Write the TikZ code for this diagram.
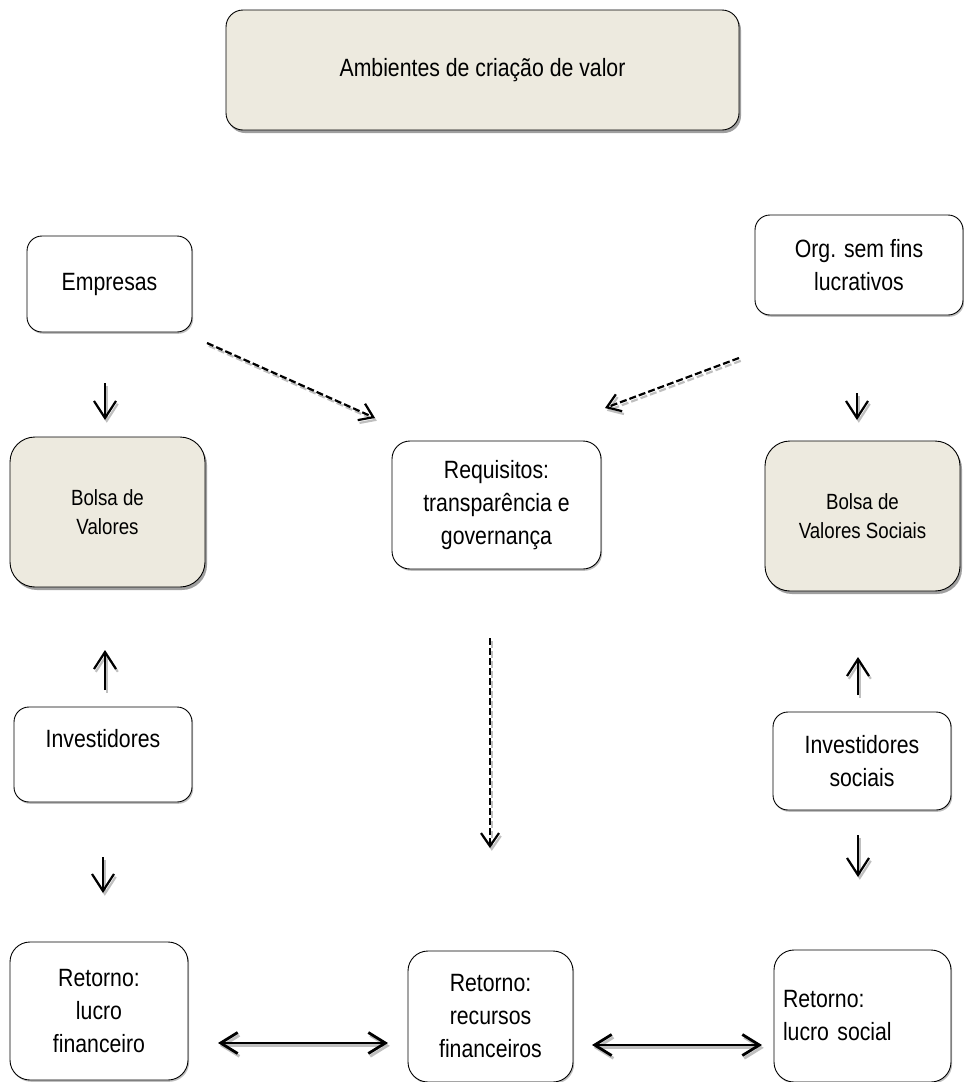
\documentclass[tikz,border=0pt]{standalone}
\usepackage{fontspec}
\setmainfont{Liberation Sans}[FakeStretch=0.85]
\usetikzlibrary{arrows.meta,shadows}
\definecolor{beige}{RGB}{237,234,223}
\newcommand\shadedarrow[3]{%
  \draw[#1, draw=gray!50, transform canvas={shift={(1.8pt,-2.8pt)}}] (#2) -- (#3);
  \draw[#1] (#2) -- (#3);}
\begin{document}
\begin{tikzpicture}[x=1pt,y=-1pt,
  box/.style={draw=black, line width=0.9pt, rounded corners=15pt, fill=white,
    align=center, inner sep=0pt, font=\fontsize{25}{33}\selectfont,
    drop shadow={shadow xshift=1.2pt, shadow yshift=-1.8pt, fill=gray!50, opacity=1}},
  fbox/.style={box, fill=beige,
    drop shadow={shadow xshift=2pt, shadow yshift=-3pt, fill=gray!75, opacity=1}},
  arr/.style={line width=2.2pt, -{Straight Barb[length=17pt,width=22pt]}},
  darr/.style={line width=2.2pt, dash pattern=on 7pt off 3pt,
    -{Straight Barb[length=13pt,width=18pt]}},
  barr/.style={line width=2.8pt,
    {Straight Barb[length=17pt,width=21pt]}-{Straight Barb[length=17pt,width=21pt]}}
]
\useasboundingbox (0,0) rectangle (964,1082);

% boxes
\node[fbox, rounded corners=17pt, minimum width=513pt, minimum height=120pt] (top) at (482.5,70) {Ambientes de criação de valor};
\node[box, minimum width=165pt, minimum height=96pt] (emp) at (109.5,284) {Empresas};
\node[box, minimum width=208pt, minimum height=100pt] (org) at (859,265) {Org. sem fins\\lucrativos};
\node[fbox, rounded corners=25pt, minimum width=195pt, minimum height=150pt, font=\fontsize{22}{29}\selectfont] (bv) at (107.5,512) {Bolsa de\\Valores};
\node[box, rounded corners=18pt, minimum width=209pt, minimum height=128pt] (req) at (496.5,505) {Requisitos:\\transparência e\\governança};
\node[fbox, rounded corners=25pt, minimum width=195pt, minimum height=150pt, font=\fontsize{22}{29}\selectfont] (bvs) at (862.5,516) {Bolsa de\\Valores Sociais};
\node[box, minimum width=178pt, minimum height=95pt] (inv) at (103,754.5) {Investidores\\\mbox{}};
\node[box, minimum width=178pt, minimum height=98pt] (invs) at (862,761) {Investidores\\sociais};
\node[box, rounded corners=20pt, minimum width=178pt, minimum height=138pt] (rlf) at (99,1011) {Retorno:\\lucro\\financeiro};
\node[box, rounded corners=20pt, minimum width=165pt, minimum height=131pt] (rrf) at (490.5,1016.5) {Retorno:\\recursos\\financeiros};
\node[box, rounded corners=20pt, minimum width=177pt, minimum height=132pt, text width=159pt, align=left] (rls) at (862.5,1016) {Retorno:\\lucro social};

% arrow end points
\coordinate (a1s) at (105,383);  \coordinate (a1e) at (105,420);
\coordinate (a2s) at (207,343);  \coordinate (a2e) at (375,418);
\coordinate (a3s) at (739,358);  \coordinate (a3e) at (605,408);
\coordinate (a4s) at (857,393);  \coordinate (a4e) at (857,420);
\coordinate (a5s) at (105,690);  \coordinate (a5e) at (105,650);
\coordinate (a6s) at (858,695);  \coordinate (a6e) at (858,657);
\coordinate (a7s) at (103,857);  \coordinate (a7e) at (103,893);
\coordinate (a8s) at (858,835);  \coordinate (a8e) at (858,877);
\coordinate (a9s) at (490,638);  \coordinate (a9e) at (490,848);
\coordinate (b1s) at (218,1043); \coordinate (b1e) at (388,1043);
\coordinate (b2s) at (592,1045); \coordinate (b2e) at (762,1045);

\shadedarrow{arr}{a1s}{a1e}
\shadedarrow{darr}{a2s}{a2e}
\shadedarrow{darr}{a3s}{a3e}
\shadedarrow{arr}{a4s}{a4e}
\shadedarrow{arr}{a5s}{a5e}
\shadedarrow{arr}{a6s}{a6e}
\shadedarrow{arr}{a7s}{a7e}
\shadedarrow{arr}{a8s}{a8e}
\shadedarrow{darr}{a9s}{a9e}
\shadedarrow{barr}{b1s}{b1e}
\shadedarrow{barr}{b2s}{b2e}
\end{tikzpicture}
\end{document}
